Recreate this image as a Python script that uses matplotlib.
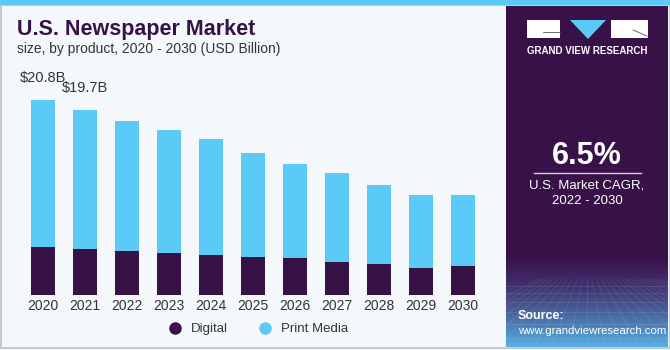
import numpy as np
import matplotlib.pyplot as plt
from matplotlib.patches import Rectangle, Polygon
from matplotlib.lines import Line2D

years = ['2020', '2021', '2022', '2023', '2024', '2025', '2026', '2027', '2028', '2029', '2030']
digital = [5.1, 4.9, 4.7, 4.5, 4.3, 4.1, 3.9, 3.5, 3.3, 2.9, 3.1]
print_media = [15.7, 14.8, 13.9, 13.1, 12.3, 11.1, 10.1, 9.5, 8.4, 7.8, 7.6]
labels = {0: '$20.8B', 1: '$19.7B'}

purple = '#371247'
blue = '#5ccaf6'
bg = '#f4f8fb'
txt = '#333333'
font = 'Liberation Sans'

fig = plt.figure(figsize=(6.7, 3.5), dpi=100)
fig.patch.set_facecolor(bg)

# right panel with gradient
side = fig.add_axes([506 / 670, 2 / 350, 162 / 670, 343 / 350])
n = 300
t = np.linspace(0, 1, n)
top = np.array([0.22, 0.07, 0.29])
mid = np.array([0.25, 0.16, 0.40])
bot = np.array([0.33, 0.70, 0.90])
grad = np.zeros((n, 1, 3))
for i, v in enumerate(t):
    if v < 0.74:
        c = top
    elif v < 0.80:
        c = top + (mid - top) * (v - 0.74) / 0.06
    else:
        c = mid + (bot - mid) * ((v - 0.80) / 0.20) ** 1.2
    grad[i, 0] = c
side.imshow(grad, aspect='auto', extent=[0, 1, 1, 0])
for k in range(-10, 20):
    side.plot([0.5 + k * 0.03, 0.5 + k * 0.11], [0.80, 1.0], color='white', alpha=0.1, lw=0.6)
for y in [0.82, 0.84, 0.865, 0.895, 0.93, 0.97]:
    side.plot([0, 1], [y, y], color='white', alpha=0.1, lw=0.6)
side.set_xlim(0, 1)
side.set_ylim(1, 0)
side.axis('off')

# chart
ax = fig.add_axes([22 / 670, 55 / 350, 462 / 670, 235 / 350])
ax.set_facecolor('none')
x = np.arange(len(years))
ax.bar(x, digital, width=0.57, color=purple, label='Digital')
ax.bar(x, print_media, width=0.57, bottom=digital, color=blue, label='Print Media')
totals = np.array(digital) + np.array(print_media)
for i, s in labels.items():
    ax.text(x[i], totals[i] + 2.4, s, ha='center', va='center', fontsize=10.5,
            color=txt, family=font)
ax.set_xlim(-0.5, len(years) - 0.5)
ax.set_ylim(0, 25.07)
ax.set_xticks(x)
ax.set_xticklabels(years, fontsize=10, color=txt, family=font)
ax.tick_params(axis='x', length=0, pad=3)
ax.set_yticks([])
for sp in ax.spines.values():
    sp.set_visible(False)

# decoration layer in pixel units, on top
deco = fig.add_axes([0, 0, 1, 1])
deco.set_xlim(0, 670)
deco.set_ylim(350, 0)
deco.axis('off')
deco.add_patch(Rectangle((0.5, 5), 669, 343, fill=False, ec='#c8c8c8', lw=1.5))
deco.add_patch(Rectangle((0, 0), 670, 5, color=blue, lw=0))

# logo
deco.add_patch(Rectangle((527, 20), 33, 18, color='white', lw=0))
deco.add_patch(Polygon([[570, 20], [606, 20], [588, 39]], color=blue, lw=0))
deco.add_patch(Rectangle((611, 20), 37, 18, color='white', lw=0))
deco.plot([543, 560], [32, 32], color='#555555', lw=0.6)
deco.plot([633, 647], [30, 36], color='#555555', lw=0.6)
deco.text(587, 51, 'GRAND VIEW RESEARCH', color='white', fontsize=7, fontweight='bold',
          ha='center', va='center', family=font)

deco.text(587, 156, '6.5%', color='white', fontsize=22, fontweight='bold',
          ha='center', va='center', family=font)
deco.plot([534, 641], [173, 173], color='#d8d0e0', lw=1)
deco.text(587, 193, 'U.S. Market CAGR,\n2022 - 2030', color='white', fontsize=9.5,
          ha='center', va='center', family=font, linespacing=1.4)
deco.text(518, 316, 'Source:', color='white', fontsize=9, fontweight='bold',
          ha='left', va='center', family=font)
deco.text(518, 331, 'www.grandviewresearch.com', color='white', fontsize=8.2,
          ha='left', va='center', family=font)

# titles
deco.text(17, 30, 'U.S. Newspaper Market', color=purple, fontsize=15.5, fontweight='bold',
          ha='left', va='center', family=font)
deco.text(17, 49, 'size, by product, 2020 - 2030 (USD Billion)', color=txt, fontsize=10,
          ha='left', va='center', family=font)

handles = [Line2D([], [], marker='o', ls='', color=purple, markersize=8),
           Line2D([], [], marker='o', ls='', color=blue, markersize=8)]
fig.legend(handles, ['Digital', 'Print Media'], loc='center', bbox_to_anchor=(255 / 670, 21 / 350),
           ncol=2, frameon=False, prop={'family': font, 'size': 9.5}, handletextpad=0.2,
           columnspacing=1.8, labelcolor=txt)

fig.savefig('out.png', dpi=100, facecolor=bg)
